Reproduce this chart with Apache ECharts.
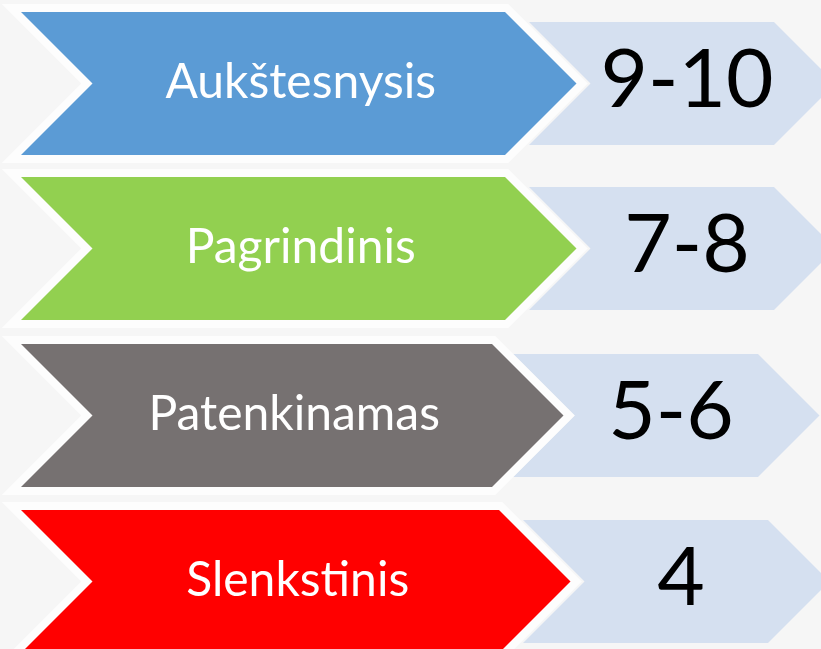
<!DOCTYPE html>
<html>
<head>
<meta charset="utf-8">
<script src="https://cdn.jsdelivr.net/npm/echarts@6/dist/echarts.min.js"></script>
<style>
html,body{margin:0;padding:0;background:#f6f6f6;}
#c{width:821px;height:649px;}
</style>
</head>
<body>
<div id="c"></div>
<script>
// ---- data ----
const levels = ['Aukštesnysis', 'Pagrindinis', 'Patenkinamas', 'Slenkstinis'];
const grades = ['9-10', '7-8', '5-6', '4'];

// ---- styles ----
const mainColors = ['#5B9BD5', '#92D050', '#767171', '#FF0000'];
const lightColor = '#D5E0F0';

// ---- layout (pixels in the 821x649 frame) ----
const rowTop = [12, 177, 344, 510];
const mainLeft = 21;
const mainRight = [505, 505, 492, 499];
const mainH = 143;
const lightLeft = [529, 529, 513, 523];
const lightRight = [774, 774, 758, 768];
const lightH = 123;
const gradeX = [687, 687, 671, 681];

const chart = echarts.init(document.getElementById('c'), null, {renderer: 'canvas'});

function renderItem(params, api) {
  const i = api.value(0);
  const top = rowTop[i];
  const mid = top + mainH / 2;
  const d = mainH / 2;
  const mainPts = [
    [mainLeft, top], [mainRight[i], top], [mainRight[i] + d, mid],
    [mainRight[i], top + mainH], [mainLeft, top + mainH], [mainLeft + d, mid]
  ].map(p => api.coord(p));
  const lt = top + (mainH - lightH) / 2;
  const ld = lightH / 2;
  const lightPts = [
    [lightLeft[i], lt], [lightRight[i], lt], [lightRight[i] + ld, mid],
    [lightRight[i], lt + lightH], [lightLeft[i], lt + lightH], [lightLeft[i] + ld, mid]
  ].map(p => api.coord(p));
  const labelPos = api.coord([(mainLeft + d + mainRight[i]) / 2 + 2, mid - 1]);
  const gradePos = api.coord([gradeX[i], mid - 3]);
  return {
    type: 'group',
    children: [
      {type: 'polygon', shape: {points: lightPts}, style: {fill: lightColor}},
      {type: 'polygon', shape: {points: mainPts}, style: {fill: 'none', stroke: '#fdfdfd', lineWidth: 16, lineJoin: 'miter'}},
      {type: 'polygon', shape: {points: mainPts}, style: {fill: mainColors[i]}},
      {type: 'text', x: labelPos[0], y: labelPos[1], style: {
        text: levels[i], fill: '#ffffff', font: '48px Lato', align: 'center', verticalAlign: 'middle'}},
      {type: 'text', x: gradePos[0], y: gradePos[1], style: {
        text: grades[i], fill: '#000000', font: '82px Lato', align: 'center', verticalAlign: 'middle'}}
    ]
  };
}

chart.setOption({
  backgroundColor: '#f6f6f6',
  animation: false,
  grid: {left: 0, right: 0, top: 0, bottom: 0},
  xAxis: {type: 'value', min: 0, max: 821, show: false},
  yAxis: {type: 'value', min: 0, max: 649, inverse: true, show: false},
  series: [{
    type: 'custom',
    renderItem: renderItem,
    clip: false,
    data: levels.map((_, i) => [i])
  }]
});
</script>
</body>
</html>
